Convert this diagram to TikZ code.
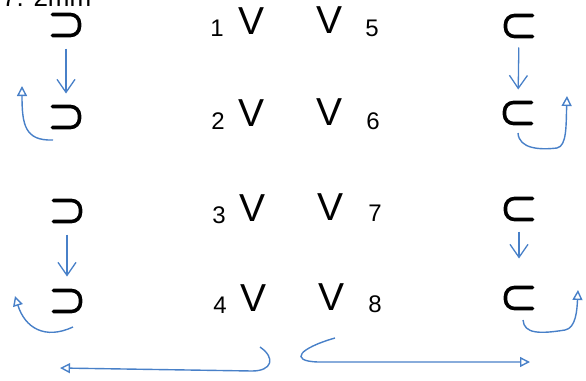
\documentclass[tikz,border=0pt]{standalone}
\usepackage{fontspec}
\setmainfont{Liberation Sans}
\usetikzlibrary{arrows.meta}
\definecolor{pen}{RGB}{72,128,200}
\begin{document}
\begin{tikzpicture}[x=1pt,y=-1pt,
  holder/.style={minimum width=27pt, minimum height=21pt, inner sep=0pt, outer sep=0pt},
  sym/.style={line width=3.6pt, rounded corners=9pt, line cap=round},
  flow/.style={pen, line width=1.3pt, -{Straight Barb[length=13pt,width=18pt]}},
  hook/.style={pen, line width=1.4pt, -{Triangle[open,length=10pt,width=10pt]}},
  num/.style={font=\fontsize{24}{24}\selectfont, inner sep=0pt},
  vee/.style={font=\fontsize{39}{39}\selectfont, inner sep=0pt},
  head/.style={font=\fontsize{26}{26}\selectfont, inner sep=0pt, anchor=base west}]
\useasboundingbox (0,0) rectangle (586,380);

% cut-off heading
\node[head] (title) at (2,6) {7. 2mm};

% left symbols (superset)
\foreach \n/\x/\y in {L1/66/25, L2/66/117, L3/67/211, L4/67/301}{
  \node[holder] (\n) at (\x,\y) {};
  \draw[sym] (\n.north west) -- (\n.north east) -- (\n.south east) -- (\n.south west);
}
% right symbols (subset)
\foreach \n/\x/\y in {R1/519/26, R2/518/113, R3/519/209, R4/519/298}{
  \node[holder] (\n) at (\x,\y) {};
  \draw[sym] (\n.north east) -- (\n.north west) -- (\n.south west) -- (\n.south east);
}

% numbers and V's
\node[num] (n1) at (217,28) {1};
\node[vee] (v1) at (252,21) {V};
\node[vee] (w1) at (330,20) {V};
\node[num] (m5) at (372,28) {5};
\node[num] (n2) at (218,121) {2};
\node[vee] (v2) at (252,113) {V};
\node[vee] (w2) at (330,112) {V};
\node[num] (m6) at (373,121) {6};
\node[num] (n3) at (219,215) {3};
\node[vee] (v3) at (253,208) {V};
\node[vee] (w3) at (331,207) {V};
\node[num] (m7) at (375,213) {7};
\node[num] (n4) at (220,305) {4};
\node[vee] (v4) at (254,298) {V};
\node[vee] (w4) at (332,297) {V};
\node[num] (m8) at (375,304) {8};

% down arrows
\draw[flow, shorten <=13pt, shorten >=13pt] (L1.south) -- (L2.north);
\draw[flow, shorten <=13pt, shorten >=14pt] (L3.south) -- (L4.north);
\draw[flow, shorten <=11pt, shorten >=13pt] (R1.south) -- (R2.north);
\draw[flow, shorten <=12pt, shorten >=29pt] (R3.south) -- (R4.north);

% hook arrows
\coordinate (a1) at (53,140);
\coordinate (b1) at (22,86);
\draw[hook] (a1) .. controls (25,141) and (22,125) .. (b1);

\coordinate (a2) at (73,327);
\coordinate (b2) at (15,296);
\draw[hook] (a2) .. controls (45,340) and (25,328) .. (b2);

\coordinate (a3) at (518,133);
\coordinate (c3) at (557,148);
\coordinate (b3) at (567,96);
\draw[hook] (a3) .. controls (519,149) and (540,150) .. (c3) .. controls (567,146) and (566,125) .. (b3);

\coordinate (a4) at (523,320);
\coordinate (c4) at (565,330);
\coordinate (b4) at (578,290);
\draw[hook] (a4) .. controls (524,334) and (540,334) .. (c4) .. controls (576,328) and (577,310) .. (b4);

% bottom arrows
\coordinate (a5) at (260,347);
\coordinate (c5) at (252,371);
\coordinate (b5) at (60,368);
\draw[hook] (a5) .. controls (276,358) and (272,371) .. (c5) -- (b5);

\coordinate (a6) at (335,338);
\coordinate (c6) at (318,362);
\coordinate (b6) at (530,362);
\draw[hook] (a6) .. controls (300,348) and (288,361) .. (c6) -- (b6);
\end{tikzpicture}
\end{document}
